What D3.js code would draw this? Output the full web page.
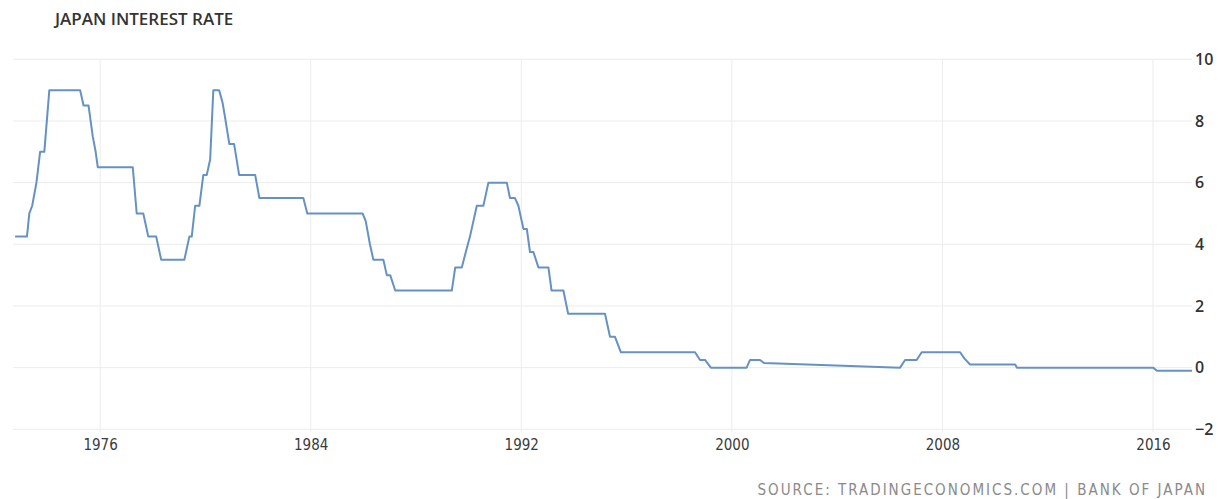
<!DOCTYPE html>
<html>
<head>
<meta charset="utf-8">
<script src="https://cdn.jsdelivr.net/npm/d3@7"></script>
<style>
  html, body { margin: 0; padding: 0; background: #ffffff; }
  svg { display: block; }
</style>
</head>
<body>
<svg id="chart" width="1218" height="499"></svg>
<script>
// Bank of Japan policy rate (%), by decimal year; each step is stored as
// the last point before a change and the first point after it.
const years = [
  1972.77, 1973.22, 1973.31, 1973.42, 1973.58, 1973.72, 1973.88, 1974.07,
  1975.24, 1975.37, 1975.56, 1975.72, 1975.83, 1975.91,
  1977.24, 1977.39, 1977.64, 1977.83, 1978.13, 1978.32,
  1979.20, 1979.39, 1979.48, 1979.61, 1979.77, 1979.92, 1980.05, 1980.18, 1980.30,
  1980.52, 1980.65, 1980.72, 1980.91, 1981.09, 1981.28, 1981.89, 1982.05,
  1983.72, 1983.87, 1985.97, 1986.09, 1986.25, 1986.38, 1986.76, 1986.89, 1987.02, 1987.21,
  1989.36, 1989.49, 1989.74, 1989.95, 1990.05, 1990.31, 1990.56, 1990.75,
  1991.45, 1991.57, 1991.76, 1991.89, 1992.08, 1992.21, 1992.33, 1992.46, 1992.65,
  1993.03, 1993.15, 1993.60, 1993.78,
  1995.18, 1995.37, 1995.56, 1995.78,
  1998.60, 1998.79, 1998.98, 1999.20,
  2000.56, 2000.69, 2001.07, 2001.22,
  2006.39, 2006.58, 2007.02, 2007.21,
  2008.67, 2008.83, 2009.05, 2010.76, 2010.83,
  2016.00, 2016.15, 2017.48
];
const rates = [
  4.25, 4.25, 5.0, 5.25, 6.0, 7.0, 7.0, 9.0,
  9.0, 8.5, 8.5, 7.5, 7.0, 6.5,
  6.5, 5.0, 5.0, 4.25, 4.25, 3.5,
  3.5, 4.25, 4.25, 5.25, 5.25, 6.25, 6.25, 6.75, 9.0,
  9.0, 8.6, 8.25, 7.25, 7.25, 6.25, 6.25, 5.5,
  5.5, 5.0, 5.0, 4.75, 4.0, 3.5, 3.5, 3.0, 3.0, 2.5,
  2.5, 3.25, 3.25, 3.94, 4.25, 5.25, 5.25, 6.0,
  6.0, 5.5, 5.5, 5.25, 4.5, 4.5, 3.75, 3.75, 3.25,
  3.25, 2.5, 2.5, 1.75,
  1.75, 1.0, 1.0, 0.5,
  0.5, 0.25, 0.25, 0.0,
  0.0, 0.25, 0.25, 0.15,
  0.0, 0.25, 0.25, 0.5,
  0.5, 0.3, 0.1, 0.1, 0.0,
  0.0, -0.1, -0.1
];

const xTickYears = [1976, 1984, 1992, 2000, 2008, 2016];
const yTickValues = [-2, 0, 2, 4, 6, 8, 10];

const titleText = "JAPAN INTEREST RATE";
const sourceText = "SOURCE: TRADINGECONOMICS.COM | BANK OF JAPAN";

const series = years.map((yr, i) => ({ year: yr, value: rates[i] }));

const svg = d3.select("#chart");

const plot = { left: 13, right: 1192, top: 59.3, bottom: 429.3 };

const x = d3.scaleLinear()
  .domain([1972.69, 2017.48])
  .range([plot.left, plot.right]);

const y = d3.scaleLinear()
  .domain([-2, 10])
  .range([plot.bottom, plot.top]);

// Horizontal grid
svg.append("g")
  .attr("class", "y-grid")
  .selectAll("line")
  .data(yTickValues)
  .join("line")
  .attr("x1", plot.left)
  .attr("x2", plot.right)
  .attr("y1", d => y(d))
  .attr("y2", d => y(d))
  .attr("stroke", "#ececec")
  .attr("stroke-width", 1);

// Vertical grid
svg.append("g")
  .attr("class", "x-grid")
  .selectAll("line")
  .data(xTickYears)
  .join("line")
  .attr("x1", d => x(d))
  .attr("x2", d => x(d))
  .attr("y1", plot.top)
  .attr("y2", plot.bottom + 3)
  .attr("stroke", "#ececec")
  .attr("stroke-width", 1);

// X axis labels
const xAxis = d3.axisBottom(x)
  .tickValues(xTickYears)
  .tickFormat(d3.format("d"))
  .tickSize(0)
  .tickPadding(0);

const gx = svg.append("g")
  .attr("transform", `translate(0, ${plot.bottom + 10})`)
  .call(xAxis);
gx.select(".domain").remove();
gx.selectAll("text")
  .attr("font-family", "'DejaVu Sans Condensed', 'DejaVu Sans', sans-serif")
  .attr("font-size", 15)
  .attr("fill", "#3a3a3a");

// Y axis labels on the right
const yAxis = d3.axisRight(y)
  .tickValues(yTickValues)
  .tickFormat(d3.format("d"))
  .tickSize(0)
  .tickPadding(0);

const gy = svg.append("g")
  .attr("transform", `translate(${plot.right + 3}, 0)`)
  .call(yAxis);
gy.select(".domain").remove();
gy.selectAll("text")
  .attr("font-family", "'Open Sans', sans-serif")
  .attr("font-weight", 600)
  .attr("font-size", 16)
  .attr("fill", "#333333");

// Rate line
const line = d3.line()
  .x(d => x(d.year))
  .y(d => y(d.value));

svg.append("path")
  .datum(series)
  .attr("d", line)
  .attr("fill", "none")
  .attr("stroke", "#6592c2")
  .attr("stroke-width", 2)
  .attr("stroke-linejoin", "round");

// Title
svg.append("text")
  .attr("x", 55)
  .attr("y", 25)
  .attr("font-family", "'Open Sans', sans-serif")
  .attr("font-weight", 600)
  .attr("font-size", 17)
  .attr("fill", "#333333")
  .text(titleText);

// Source note
svg.append("text")
  .attr("x", 1207)
  .attr("y", 495)
  .attr("text-anchor", "end")
  .attr("font-family", "'DejaVu Sans Condensed', 'DejaVu Sans', sans-serif")
  .attr("font-size", 15)
  .attr("letter-spacing", 2)
  .attr("fill", "#8a8a8a")
  .text(sourceText);
</script>
</body>
</html>
